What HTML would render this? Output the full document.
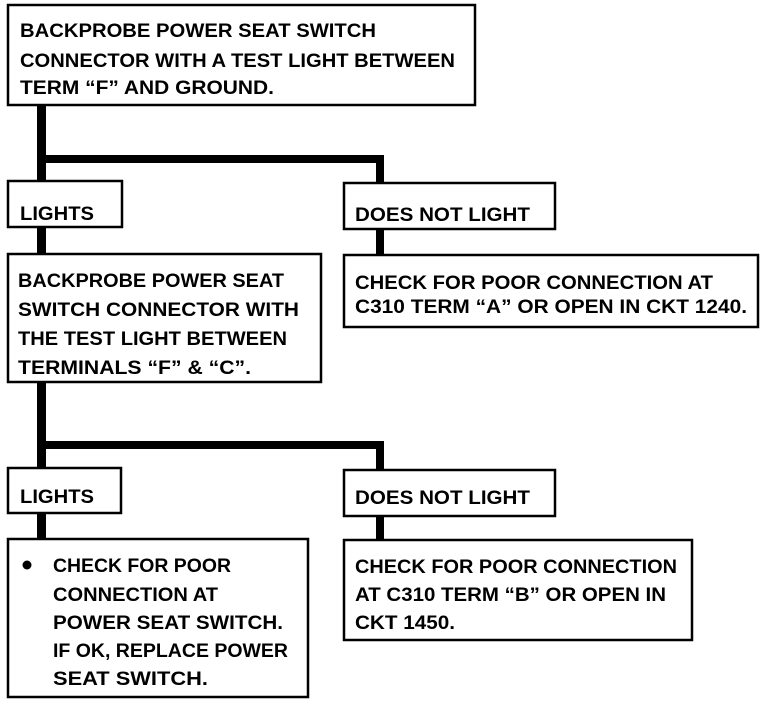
<!DOCTYPE html>
<html><head><meta charset="utf-8"><style>
html,body{margin:0;padding:0;background:#fff;}
svg{display:block;}
text{font-family:"Liberation Sans",sans-serif;font-weight:bold;font-size:19px;fill:#000;}
</style></head><body>
<svg width="768" height="706" viewBox="0 0 768 706" xmlns="http://www.w3.org/2000/svg">
<g fill="none" stroke="#000" stroke-width="2.5">
<rect x="8" y="5" width="467" height="100"/>
<rect x="8" y="181" width="114" height="46"/>
<rect x="344" y="183" width="211" height="46"/>
<rect x="8" y="254" width="313" height="128"/>
<rect x="344" y="255" width="414" height="72"/>
<rect x="8" y="468" width="113" height="45"/>
<rect x="344" y="470" width="211" height="46"/>
<rect x="8" y="539" width="300" height="158"/>
<rect x="344" y="540" width="348" height="100"/>
</g>
<g fill="#000">
<rect x="37" y="105" width="9" height="76"/>
<rect x="37" y="155" width="347" height="8"/>
<rect x="376" y="155" width="8" height="28"/>
<rect x="37" y="227" width="9" height="27"/>
<rect x="376" y="229" width="8" height="26"/>
<rect x="37" y="382" width="9" height="86"/>
<rect x="37" y="441" width="347" height="8"/>
<rect x="376" y="441" width="8" height="29"/>
<rect x="37" y="513" width="9" height="26"/>
<rect x="376" y="516" width="8" height="24"/>
<circle cx="27" cy="565" r="4.5"/>
</g>
<text x="20" y="37" textLength="356" lengthAdjust="spacingAndGlyphs">BACKPROBE POWER SEAT SWITCH</text>
<text x="20" y="67" textLength="435" lengthAdjust="spacingAndGlyphs">CONNECTOR WITH A TEST LIGHT BETWEEN</text>
<text x="20" y="94" textLength="254" lengthAdjust="spacingAndGlyphs">TERM “F” AND GROUND.</text>
<text x="20" y="220" textLength="74" lengthAdjust="spacingAndGlyphs">LIGHTS</text>
<text x="355" y="221" textLength="175" lengthAdjust="spacingAndGlyphs">DOES NOT LIGHT</text>
<text x="18" y="287" textLength="266" lengthAdjust="spacingAndGlyphs">BACKPROBE POWER SEAT</text>
<text x="18" y="316" textLength="281" lengthAdjust="spacingAndGlyphs">SWITCH CONNECTOR WITH</text>
<text x="18" y="345" textLength="269" lengthAdjust="spacingAndGlyphs">THE TEST LIGHT BETWEEN</text>
<text x="18" y="374" textLength="233" lengthAdjust="spacingAndGlyphs">TERMINALS “F” &amp; “C”.</text>
<text x="355" y="289" textLength="358" lengthAdjust="spacingAndGlyphs">CHECK FOR POOR CONNECTION AT</text>
<text x="355" y="313" textLength="392" lengthAdjust="spacingAndGlyphs">C310 TERM “A” OR OPEN IN CKT 1240.</text>
<text x="20" y="503" textLength="74" lengthAdjust="spacingAndGlyphs">LIGHTS</text>
<text x="355" y="504" textLength="175" lengthAdjust="spacingAndGlyphs">DOES NOT LIGHT</text>
<text x="53" y="572" textLength="178" lengthAdjust="spacingAndGlyphs">CHECK FOR POOR</text>
<text x="53" y="601" textLength="165" lengthAdjust="spacingAndGlyphs">CONNECTION AT</text>
<text x="53" y="629" textLength="230" lengthAdjust="spacingAndGlyphs">POWER SEAT SWITCH.</text>
<text x="53" y="657" textLength="235" lengthAdjust="spacingAndGlyphs">IF OK, REPLACE POWER</text>
<text x="53" y="685" textLength="155" lengthAdjust="spacingAndGlyphs">SEAT SWITCH.</text>
<text x="355" y="573" textLength="322" lengthAdjust="spacingAndGlyphs">CHECK FOR POOR CONNECTION</text>
<text x="355" y="601" textLength="311" lengthAdjust="spacingAndGlyphs">AT C310 TERM “B” OR OPEN IN</text>
<text x="355" y="629" textLength="100" lengthAdjust="spacingAndGlyphs">CKT 1450.</text>
</svg>
</body></html>
